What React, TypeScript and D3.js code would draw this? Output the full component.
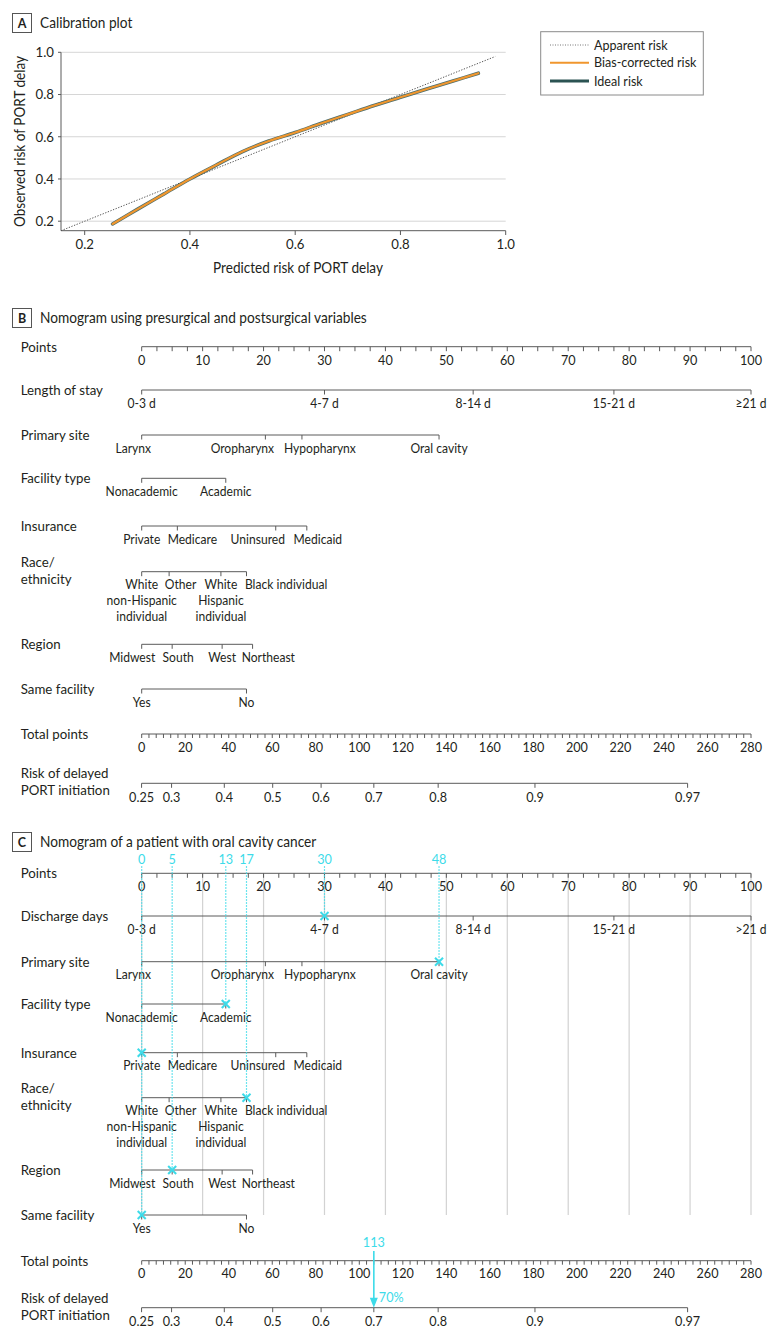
import React from "react";
import * as d3 from "d3";

// ---------- Panel A data ----------
const calibPredicted = [0.253, 0.3, 0.35, 0.4, 0.45, 0.5, 0.55, 0.6, 0.65, 0.7, 0.75, 0.8, 0.85, 0.9, 0.948];
const calibObserved = [0.187, 0.256, 0.328, 0.4, 0.466, 0.53, 0.58, 0.62, 0.664, 0.706, 0.748, 0.787, 0.826, 0.864, 0.901];
const apparentRange = [0.155, 0.98];
const calibTicks = [0.2, 0.4, 0.6, 0.8, 1.0];
const legendLabels = ["Apparent risk", "Bias-corrected risk", "Ideal risk"];

// ---------- Nomogram data ----------
const pointsTicks = d3.range(0, 101, 10);
const totalTicks = d3.range(0, 281, 20);
const riskTicks = [0.25, 0.3, 0.4, 0.5, 0.6, 0.7, 0.8, 0.9, 0.97];
const riskTickLabels = ["0.25", "0.3", "0.4", "0.5", "0.6", "0.7", "0.8", "0.9", "0.97"];

const losLevels = ["0-3 d", "4-7 d", "8-14 d", "15-21 d", "≥21 d"];
const losLevelsC = ["0-3 d", "4-7 d", "8-14 d", "15-21 d", ">21 d"];
const losPoints = [0, 30, 54.4, 77.5, 100];
const siteLevels = ["Larynx", "Oropharynx", "Hypopharynx", "Oral cavity"];
const sitePoints = [0, 20.3, 26.3, 48.8];
const facilityLevels = ["Nonacademic", "Academic"];
const facilityPoints = [0, 13.8];
const insuranceLevels = ["Private", "Medicare", "Uninsured", "Medicaid"];
const insurancePoints = [0, 5.85, 22, 27.1];
const raceLevels = [["White", "non-Hispanic", "individual"], ["Other"], ["White", "Hispanic", "individual"], ["Black individual"]];
const racePoints = [0, 4.5, 13, 17.2];
const regionLevels = ["Midwest", "South", "West", "Northeast"];
const regionPoints = [0, 5, 13.2, 18.2];
const sameLevels = ["Yes", "No"];
const samePoints = [0, 17.2];

// logistic link between total points and risk
const riskIntercept = 60.2;
const riskSlope = 54.85;

// patient example (panel C)
const patientChoice = [1, 3, 1, 0, 3, 1, 0];
const patientPointLabels = ["30", "48", "13", "0", "17", "5", "0"];
const patientTotal = "113";
const patientRisk = 0.7;
const patientRiskLabel = "70%";

// ---------- layout / style ----------
const FONT = "Lato, 'Noto Sans', sans-serif";
const TXT = "#231f20";
const AX = "#5a5a5a";
const CYAN = "#3ddbe9";
const ORANGE = "#f0962e";
const TEAL = "#2b5352";
const SX = 0.93; // horizontal condensing of the text face
const FS_ROW = 14.3;
const FS_CAT = 13;
const FS_TICK = 13.6;
const FS_TITLE = 14.7;

// label nudges in px, per variable, per level
const nudges = [
  [0, 0, 0, 0, 0],
  [-8.4, -23, 18, 0],
  [0, 0],
  [0, 15, -18, 11],
  [0, 11.5, 0, 39.6],
  [-9.5, 6, 0, 15.7],
  [0, 0],
];

const X0 = 141.7;
const X1 = 751;
const pts = d3.scaleLinear().domain([0, 100]).range([X0, X1]);
const tot = d3.scaleLinear().domain([0, 280]).range([X0, X1]);
const logit = (p: number) => Math.log(p / (1 - p));
const riskX = (p: number) => tot(riskIntercept + riskSlope * logit(p));

type Variable = { name: string[]; levels: (string | string[])[]; points: number[] };

function variables(isC: boolean): Variable[] {
  return [
    { name: [isC ? "Discharge days" : "Length of stay"], levels: isC ? losLevelsC : losLevels, points: losPoints },
    { name: ["Primary site"], levels: siteLevels, points: sitePoints },
    { name: ["Facility type"], levels: facilityLevels, points: facilityPoints },
    { name: ["Insurance"], levels: insuranceLevels, points: insurancePoints },
    { name: ["Race/", "ethnicity"], levels: raceLevels, points: racePoints },
    { name: ["Region"], levels: regionLevels, points: regionPoints },
    { name: ["Same facility"], levels: sameLevels, points: samePoints },
  ];
}

function T({
  x,
  y,
  size,
  anchor = "start",
  fill = TXT,
  weight,
  children,
}: {
  x: number;
  y: number;
  size: number;
  anchor?: string;
  fill?: string;
  weight?: string;
  children: React.ReactNode;
}) {
  return (
    <text
      transform={`translate(${x},${y}) scale(${SX},1)`}
      fontSize={size}
      textAnchor={anchor}
      fill={fill}
      fontWeight={weight}
    >
      {children}
    </text>
  );
}

function RowLabel({ lines, y }: { lines: string[]; y: number }) {
  if (lines.length === 1)
    return (
      <T x={20.7} y={y + 5} size={FS_ROW}>
        {lines[0]}
      </T>
    );
  return (
    <g>
      <T x={20.7} y={y - 5} size={FS_ROW}>{lines[0]}</T>
      <T x={20.7} y={y + 12} size={FS_ROW}>{lines[1]}</T>
    </g>
  );
}

function TitleBox({ letter, title, y }: { letter: string; title: string; y: number }) {
  return (
    <g>
      <rect x={12.5} y={y - 9.5} width={19} height={19} fill="#fff" stroke="#555" strokeWidth={1} />
      <text x={22} y={y + 4.5} fontSize={12.5} fontWeight="bold" textAnchor="middle" fill={TXT}>
        {letter}
      </text>
      <T x={40} y={y + 5} size={FS_TITLE}>
        {title}
      </T>
    </g>
  );
}

function PointsAxis({ y }: { y: number }) {
  const minor = d3.range(0, 100.001, 2.5);
  return (
    <g>
      <RowLabel lines={["Points"]} y={y} />
      <line x1={pts(0)} x2={pts(100)} y1={y} y2={y} stroke={AX} />
      {minor.map((v) => (
        <line key={v} x1={pts(v)} x2={pts(v)} y1={y} y2={y + 4.5} stroke={AX} />
      ))}
      {pointsTicks.map((v) => (
        <T key={v} x={pts(v)} y={y + 18} size={FS_TICK} anchor="middle">
          {v}
        </T>
      ))}
    </g>
  );
}

function TotalAxis({ y }: { y: number }) {
  const minor = d3.range(0, 280.001, 20 / 6);
  return (
    <g>
      <RowLabel lines={["Total points"]} y={y} />
      <line x1={tot(0)} x2={tot(280)} y1={y} y2={y} stroke={AX} />
      {minor.map((v, i) => (
        <line key={i} x1={tot(v)} x2={tot(v)} y1={y} y2={y + 4} stroke={AX} />
      ))}
      {totalTicks.map((v) => (
        <T key={v} x={tot(v)} y={y + 17.7} size={FS_TICK} anchor="middle">
          {v}
        </T>
      ))}
    </g>
  );
}

function RiskAxis({ y }: { y: number }) {
  return (
    <g>
      <RowLabel lines={["Risk of delayed", "PORT initiation"]} y={y} />
      <line x1={riskX(riskTicks[0])} x2={riskX(riskTicks[riskTicks.length - 1])} y1={y} y2={y} stroke={AX} />
      {riskTicks.map((v, i) => (
        <g key={v}>
          <line x1={riskX(v)} x2={riskX(v)} y1={y} y2={y + 4.5} stroke={AX} />
          <T x={riskX(v)} y={y + 18.3} size={FS_TICK} anchor="middle">
            {riskTickLabels[i]}
          </T>
        </g>
      ))}
    </g>
  );
}

function VarRow({ v, y, idx }: { v: Variable; y: number; idx: number }) {
  const xs = v.points.map((p) => pts(p));
  return (
    <g>
      <RowLabel lines={v.name} y={y} />
      <line x1={d3.min(xs)} x2={d3.max(xs)} y1={y} y2={y} stroke={AX} />
      {v.levels.map((lab, i) => {
        const lines = Array.isArray(lab) ? lab : [lab];
        const lx = xs[i] + nudges[idx][i];
        return (
          <g key={i}>
            <line x1={xs[i]} x2={xs[i]} y1={y} y2={y + 4.5} stroke={AX} />
            {lines.map((t, j) => (
              <T key={j} x={lx} y={y + 17.6 + j * 15.7} size={FS_CAT} anchor="middle">
                {t}
              </T>
            ))}
          </g>
        );
      })}
    </g>
  );
}

function Cross({ x, y }: { x: number; y: number }) {
  const s = 4;
  return (
    <g stroke={CYAN} strokeWidth={2}>
      <line x1={x - s} x2={x + s} y1={y - s} y2={y + s} />
      <line x1={x - s} x2={x + s} y1={y + s} y2={y - s} />
    </g>
  );
}

export default function App() {
  // ----- panel A scales -----
  const xA = d3.scaleLinear().domain([0.155, 1]).range([61, 505.7]);
  const yA = d3.scaleLinear().domain([0.155, 1]).range([230.7, 52.3]);
  const calibData = calibPredicted.map((p, i) => [p, calibObserved[i]] as [number, number]);
  const curve = d3
    .line<[number, number]>()
    .x((d) => xA(d[0]))
    .y((d) => yA(d[1]))
    .curve(d3.curveCatmullRom.alpha(0.5))(calibData) as string;

  const rowsB = [390, 435, 478.3, 526, 571.7, 644.3, 689];
  const rowsC = [916, 961.7, 1004, 1052.7, 1097.7, 1170, 1215];
  const varsB = variables(false);
  const varsC = variables(true);
  const cTopLabelY = 864.3;
  const cPointsY = 873.3;

  // selected positions for panel C
  const selected = varsC.map((v, i) => ({ x: pts(v.points[patientChoice[i]]), y: rowsC[i], label: patientPointLabels[i] }));
  const uniqueTop = d3.groups(selected, (d) => d.label).map(([lab, arr]) => ({
    label: lab,
    x: arr[0].x,
    yEnd: d3.max(arr, (d) => d.y) as number,
  }));

  const legendRowY = [45, 62.7, 81];
  const arrowX = riskX(patientRisk);
  const totalYC = 1260.7;
  const riskYC = 1307.7;

  return (
    <svg
      width={780}
      height={1340}
      style={{ position: "absolute", left: 0, top: 0, display: "block", background: "#fff" }}
      fontFamily={FONT}
    >
      <rect x={0} y={0} width={780} height={1340} fill="#fff" />
      {/* ---------------- Panel A ---------------- */}
      <TitleBox letter="A" title="Calibration plot" y={23} />
      {calibTicks.map((t) => (
        <line key={"g" + t} x1={61} x2={505.7} y1={yA(t)} y2={yA(t)} stroke="#d6d6d6" strokeWidth={1} />
      ))}
      <line x1={61} x2={61} y1={52.3} y2={230.7} stroke={AX} />
      <line x1={61} x2={505.7} y1={230.7} y2={230.7} stroke={AX} />
      {calibTicks.map((t) => (
        <g key={"y" + t}>
          <line x1={58} x2={61} y1={yA(t)} y2={yA(t)} stroke={AX} />
          <T x={54} y={yA(t) + 4.8} size={FS_TICK + 0.6} anchor="end">
            {t.toFixed(1)}
          </T>
        </g>
      ))}
      {calibTicks.map((t) => (
        <g key={"x" + t}>
          <line x1={xA(t)} x2={xA(t)} y1={230.7} y2={235} stroke={AX} />
          <T x={xA(t)} y={248.5} size={FS_TICK + 0.6} anchor="middle">
            {t.toFixed(1)}
          </T>
        </g>
      ))}
      <T x={298} y={272.5} size={14.6} anchor="middle">
        Predicted risk of PORT delay
      </T>
      <g transform="translate(24.5,141.5) rotate(-90)">
        <T x={0} y={0} size={14.6} anchor="middle">
          Observed risk of PORT delay
        </T>
      </g>
      <line
        x1={xA(apparentRange[0])}
        y1={yA(apparentRange[0])}
        x2={xA(apparentRange[1])}
        y2={yA(apparentRange[1])}
        stroke="#555"
        strokeWidth={1}
        strokeDasharray="1.3,1.5"
      />
      <path d={curve} fill="none" stroke={TEAL} strokeWidth={3.6} strokeLinecap="round" opacity={0.85} />
      <path d={curve} fill="none" stroke={ORANGE} strokeWidth={2.2} strokeLinecap="round" />

      {/* legend */}
      <rect x={540.7} y={31.7} width={162.6} height={63.3} fill="#fff" stroke="#8a8a8a" strokeWidth={1} />
      {legendLabels.map((lab, i) => (
        <g key={lab}>
          {i === 0 && (
            <line x1={550} x2={589} y1={legendRowY[i]} y2={legendRowY[i]} stroke="#777" strokeDasharray="1,1.5" />
          )}
          {i === 1 && <line x1={550} x2={589} y1={legendRowY[i]} y2={legendRowY[i]} stroke={ORANGE} strokeWidth={2} />}
          {i === 2 && <line x1={550} x2={589} y1={legendRowY[i]} y2={legendRowY[i]} stroke={TEAL} strokeWidth={3} />}
          <T x={594} y={legendRowY[i] + 4.7} size={13.5}>
            {lab}
          </T>
        </g>
      ))}

      {/* ---------------- Panel B ---------------- */}
      <TitleBox letter="B" title="Nomogram using presurgical and postsurgical variables" y={318} />
      <PointsAxis y={346.7} />
      {varsB.map((v, i) => (
        <VarRow key={i} v={v} y={rowsB[i]} idx={i} />
      ))}
      <TotalAxis y={734} />
      <RiskAxis y={783.3} />

      {/* ---------------- Panel C ---------------- */}
      <TitleBox letter="C" title="Nomogram of a patient with oral cavity cancer" y={842} />
      {pointsTicks.map((v) => (
        <line key={"cg" + v} x1={pts(v)} x2={pts(v)} y1={cPointsY} y2={rowsC[6]} stroke="#d2d2d2" strokeWidth={1.2} />
      ))}
      <PointsAxis y={cPointsY} />
      {varsC.map((v, i) => (
        <VarRow key={i} v={v} y={rowsC[i]} idx={i} />
      ))}
      <TotalAxis y={totalYC} />
      <RiskAxis y={riskYC} />

      {/* patient overlay */}
      {uniqueTop.map((d) => (
        <g key={"u" + d.label}>
          <line x1={d.x} x2={d.x} y1={cTopLabelY + 2} y2={d.yEnd} stroke={CYAN} strokeWidth={1.2} strokeDasharray="1.5,1.5" />
          <T x={d.x} y={cTopLabelY} size={FS_TICK} anchor="middle" fill={CYAN}>
            {d.label}
          </T>
        </g>
      ))}
      {selected.map((d, i) => (
        <Cross key={"c" + i} x={d.x} y={d.y} />
      ))}
      <T x={arrowX} y={1246.7} size={FS_TICK} anchor="middle" fill={CYAN}>
        {patientTotal}
      </T>
      <line x1={arrowX} x2={arrowX} y1={1251} y2={riskYC - 8} stroke={CYAN} strokeWidth={1.6} />
      <path d={`M${arrowX - 4},${riskYC - 10} L${arrowX + 4},${riskYC - 10} L${arrowX},${riskYC} Z`} fill={CYAN} />
      <T x={arrowX + 5} y={1302.3} size={FS_TICK} fill={CYAN}>
        {patientRiskLabel}
      </T>
    </svg>
  );
}
